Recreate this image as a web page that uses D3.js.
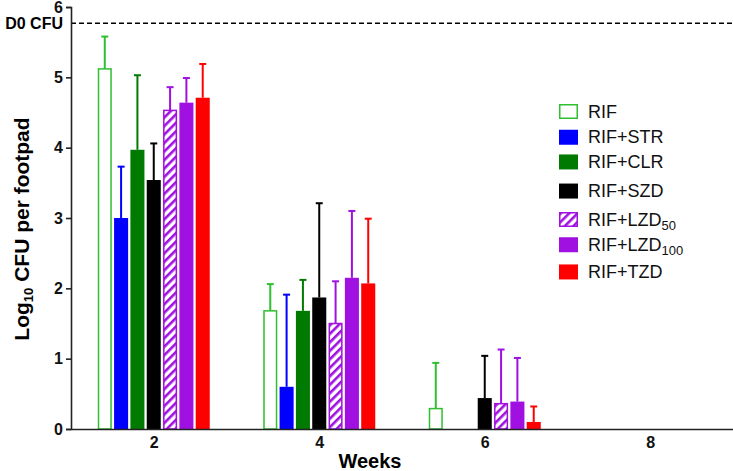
<!DOCTYPE html>
<html><head><meta charset="utf-8">
<script src="https://cdn.jsdelivr.net/npm/d3@7"></script>
<style>body{margin:0;background:#fff}svg{display:block;font-family:"Liberation Sans",Arial,sans-serif}</style>
</head><body><svg id="c" width="733" height="471"></svg>
<script>
const weeks = [2, 4, 6, 8];
const seriesNames = ["RIF", "RIF+STR", "RIF+CLR", "RIF+SZD", "RIF+LZD50", "RIF+LZD100", "RIF+TZD"];
const seriesColors = ["#2fbf2f", "#0000ff", "#007a00", "#000000", "#a010e0", "#a010e0", "#ff0000"];
// means per series, by week (2,4,6,8)
const meanRIF     = [5.12, 1.68, 0.29, null];
const meanSTR     = [3.00, 0.60, null, null];
const meanCLR     = [3.97, 1.68, null, null];
const meanSZD     = [3.54, 1.87, 0.44, null];
const meanLZD50   = [4.53, 1.50, 0.36, null];
const meanLZD100  = [4.64, 2.15, 0.39, null];
const meanTZD     = [4.71, 2.07, 0.10, null];
// upper error bar ends
const errRIF     = [5.58, 2.06, 0.94, null];
const errSTR     = [3.73, 1.91, null, null];
const errCLR     = [5.03, 2.12, null, null];
const errSZD     = [4.06, 3.21, 1.04, null];
const errLZD50   = [4.86, 2.10, 1.13, null];
const errLZD100  = [4.99, 3.10, 1.01, null];
const errTZD     = [5.19, 2.99, 0.32, null];
const yTicks = [0, 1, 2, 3, 4, 5, 6];
const d0CFU = 5.77;

const means = [meanRIF, meanSTR, meanCLR, meanSZD, meanLZD50, meanLZD100, meanTZD];
const errs = [errRIF, errSTR, errCLR, errSZD, errLZD50, errLZD100, errTZD];

const svg = d3.select("#c");
const x = d3.scaleLinear().domain([1, 9]).range([71, 733]);
const y = d3.scaleLinear().domain([0, 6]).range([429, 7]);
const band = d3.scaleBand().domain(seriesNames).range([-56, 56]).paddingInner(0.14);

const defs = svg.append("defs");
const pat = defs.append("pattern").attr("id", "hatch").attr("patternUnits", "userSpaceOnUse")
  .attr("width", 6).attr("height", 6).attr("patternTransform", "rotate(45)");
pat.append("rect").attr("width", 6).attr("height", 6).attr("fill", "#fff");
pat.append("rect").attr("x", 0).attr("width", 2.6).attr("height", 6).attr("fill", "#a010e0");

function fillFor(i) { return i === 0 ? "#fff" : (i === 4 ? "url(#hatch)" : seriesColors[i]); }

// dashed D0 line
svg.append("line").attr("x1", x(1)).attr("x2", 733).attr("y1", y(d0CFU)).attr("y2", y(d0CFU))
  .attr("stroke", "#000").attr("stroke-width", 1.6).attr("stroke-dasharray", "5,3");
svg.append("text").attr("x", 63).attr("y", y(d0CFU) + 6.3).attr("text-anchor", "end")
  .attr("font-weight", "bold").attr("font-size", 16).text("D0 CFU");

// bars
seriesNames.forEach((s, i) => {
  const g = svg.append("g");
  weeks.forEach((w, k) => {
    const m = means[i][k];
    if (m == null) return;
    const bx = x(w) + band(s);
    const bw = band.bandwidth();
    const cx = bx + bw / 2;
    const e = errs[i][k];
    if (e != null) {
      g.append("line").attr("x1", cx).attr("x2", cx).attr("y1", y(m)).attr("y2", y(e))
        .attr("stroke", seriesColors[i]).attr("stroke-width", 2);
      g.append("line").attr("x1", cx - 3.5).attr("x2", cx + 3.5).attr("y1", y(e)).attr("y2", y(e))
        .attr("stroke", seriesColors[i]).attr("stroke-width", 2);
    }
    const outlined = (i === 0 || i === 4);
    g.append("rect").attr("x", outlined ? bx + 0.75 : bx).attr("y", y(m))
      .attr("width", outlined ? bw - 1.5 : bw).attr("height", y(0) - y(m))
      .attr("fill", fillFor(i))
      .attr("stroke", outlined ? seriesColors[i] : "none").attr("stroke-width", 1.5);
  });
});

// axes
const yAxis = svg.append("g").attr("transform", `translate(${x(1)},0)`)
  .call(d3.axisLeft(y).tickValues(yTicks).tickSize(5).tickPadding(3).tickFormat(d3.format("d")));
yAxis.select(".domain").attr("stroke", "#222").attr("stroke-width", 1.6);
yAxis.selectAll(".tick line").attr("stroke", "#222").attr("stroke-width", 1.6);
yAxis.selectAll("text").attr("font-size", 16).attr("font-weight", "bold").attr("fill", "#111")
  .attr("font-family", "Liberation Sans, Arial, sans-serif");

const xAxis = svg.append("g").attr("transform", `translate(0,${y(0)})`)
  .call(d3.axisBottom(x).tickValues(weeks).tickSize(0).tickPadding(8).tickFormat(d3.format("d")));
xAxis.select(".domain").attr("stroke", "#222").attr("stroke-width", 1.6);
xAxis.selectAll("text").attr("font-size", 16).attr("font-weight", "bold").attr("fill", "#111")
  .attr("font-family", "Liberation Sans, Arial, sans-serif");

// axis titles
svg.append("text").attr("x", 370).attr("y", 468).attr("text-anchor", "middle")
  .attr("font-weight", "bold").attr("font-size", 20).text("Weeks");
const yl = svg.append("text").attr("transform", "translate(29,229) rotate(-90)").attr("text-anchor", "middle")
  .attr("font-weight", "bold").attr("font-size", 21);
yl.append("tspan").text("Log");
yl.append("tspan").attr("font-size", 13).attr("dy", 4).text("10");
yl.append("tspan").attr("dy", -4).text(" CFU per footpad");

// legend
const legendY = [112, 137, 161.7, 190.8, 220, 244.5, 271.7];
seriesNames.forEach((s, i) => {
  const cy = legendY[i];
  const outlined = (i === 0 || i === 4);
  svg.append("rect").attr("x", outlined ? 559.75 : 559).attr("y", cy - 7.25)
    .attr("width", outlined ? 17.5 : 19).attr("height", outlined ? 13.5 : 15)
    .attr("fill", fillFor(i)).attr("stroke", outlined ? seriesColors[i] : "none").attr("stroke-width", 1.5);
  const t = svg.append("text").attr("x", 588).attr("y", cy + 6).attr("font-size", 18).attr("fill", "#111");
  if (i === 4 || i === 5) {
    t.append("tspan").text("RIF+LZD");
    t.append("tspan").attr("font-size", 13).attr("dy", 4).text(i === 4 ? "50" : "100");
  } else {
    t.text(s);
  }
});
</script></body></html>
